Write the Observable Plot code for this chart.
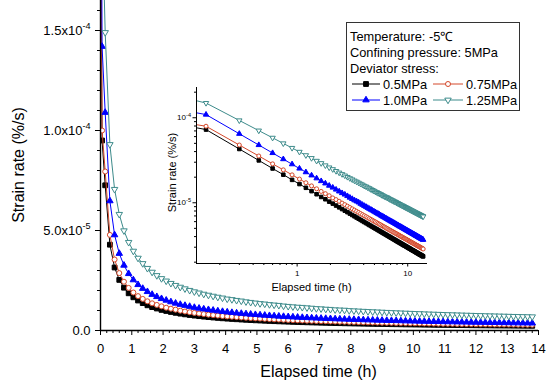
<!DOCTYPE html>
<html><head><meta charset="utf-8">
<script src="https://cdn.jsdelivr.net/npm/d3@7"></script>
<script src="https://cdn.jsdelivr.net/npm/@observablehq/plot@0.6"></script>
<style>
body{margin:0;background:#fff;}
#wrap{position:relative;width:550px;height:386px;overflow:hidden;background:#fff;}
#wrap > svg, #wrap > div{position:absolute;}
</style></head><body><div id="wrap"></div>
<script>
const FONT = '"Liberation Sans", Arial, Helvetica, sans-serif';

// Elapsed time (h)
const times = [0.01,0.05,
0.15,0.3,0.45,0.6,0.75,0.9,1.05,1.2,1.35,1.5,
1.65,1.8,1.95,2.1,2.25,2.4,2.55,2.7,2.85,3,
3.15,3.3,3.45,3.6,3.75,3.9,4.05,4.2,4.35,4.5,
4.65,4.8,4.95,5.1,5.25,5.4,5.55,5.7,5.85,6,
6.15,6.3,6.45,6.6,6.75,6.9,7.05,7.2,7.35,7.5,
7.65,7.8,7.95,8.1,8.25,8.4,8.55,8.7,8.85,9,
9.15,9.3,9.45,9.6,9.75,9.9,10.05,10.2,10.35,10.5,
10.65,10.8,10.95,11.1,11.25,11.4,11.55,11.7,11.85,12,
12.15,12.3,12.45,12.6,12.75,12.9,13.05,13.2,13.35,13.5,
13.65,13.8];

// Strain rate, in units of 1e-6 %/s
const rate05 = [200,95,
72.6,42.9,31.5,25.3,21.4,18.6,16.6,15.0,13.7,12.6,
11.7,11.0,10.3,9.77,9.27,8.83,8.43,8.07,7.75,7.45,
7.18,6.93,6.70,6.49,6.29,6.10,5.93,5.77,5.62,5.47,
5.34,5.21,5.09,4.98,4.87,4.77,4.67,4.57,4.48,4.40,
4.32,4.24,4.16,4.09,4.02,3.96,3.89,3.83,3.77,3.71,
3.66,3.60,3.55,3.50,3.45,3.41,3.36,3.32,3.27,3.23,
3.19,3.15,3.12,3.08,3.04,3.01,2.97,2.94,2.91,2.88,
2.84,2.81,2.78,2.76,2.73,2.70,2.68,2.65,2.62,2.60,
2.57,2.55,2.53,2.50,2.48,2.46,2.44,2.42,2.40,2.37,
2.36,2.34];
const rate075 = [220,100,
79.5,47.8,35.5,28.7,24.4,21.3,19.0,17.2,15.8,14.6,
13.6,12.8,12.1,11.4,10.9,10.4,9.91,9.50,9.13,8.79,
8.48,8.20,7.93,7.69,7.46,7.25,7.05,6.87,6.69,6.53,
6.37,6.22,6.08,5.95,5.83,5.71,5.59,5.49,5.38,5.28,
5.19,5.10,5.01,4.93,4.84,4.77,4.69,4.62,4.55,4.48,
4.42,4.36,4.30,4.24,4.18,4.13,4.07,4.02,3.97,3.92,
3.87,3.83,3.78,3.74,3.70,3.66,3.62,3.58,3.54,3.50,
3.46,3.43,3.39,3.36,3.33,3.30,3.26,3.23,3.20,3.17,
3.15,3.12,3.09,3.06,3.04,3.01,2.98,2.96,2.93,2.91,
2.89,2.86];
const rate10 = [300,142,
109,64.8,47.8,38.5,32.6,28.4,25.3,22.9,21.0,19.4,
18.0,16.9,15.9,15.1,14.3,13.6,13.0,12.5,12.0,11.5,
11.1,10.7,10.4,10.1,9.75,9.47,9.20,8.96,8.72,8.50,
8.30,8.10,7.92,7.74,7.58,7.42,7.27,7.12,6.98,6.85,
6.73,6.61,6.49,6.38,6.27,6.17,6.07,5.98,5.89,5.80,
5.71,5.63,5.55,5.47,5.40,5.32,5.25,5.19,5.12,5.06,
4.99,4.93,4.88,4.82,4.76,4.71,4.65,4.60,4.55,4.50,
4.46,4.41,4.36,4.32,4.28,4.24,4.19,4.15,4.11,4.08,
4.04,4.00,3.96,3.93,3.89,3.86,3.83,3.79,3.76,3.73,
3.70,3.67];
const rate125 = [400,210,
149,93.0,70.6,58.1,49.9,44.1,39.7,36.2,33.5,31.1,
29.2,27.5,26.0,24.8,23.6,22.6,21.7,20.9,20.1,19.4,
18.8,18.2,17.7,17.2,16.7,16.3,15.8,15.5,15.1,14.8,
14.4,14.1,13.8,13.5,13.3,13.0,12.8,12.6,12.3,12.1,
11.9,11.7,11.6,11.4,11.2,11.0,10.9,10.7,10.6,10.4,
10.3,10.2,10.0,9.89,9.77,9.65,9.53,9.42,9.31,9.21,
9.10,9.00,8.91,8.81,8.72,8.63,8.54,8.46,8.37,8.29,
8.21,8.13,8.06,7.98,7.91,7.84,7.77,7.70,7.63,7.57,
7.51,7.44,7.38,7.32,7.27,7.21,7.15,7.09,7.04,6.99,
6.94,6.89];

const stressLabels = ["0.5MPa","0.75MPa","1.0MPa","1.25MPa"];
const legendTitle = ["Temperature: -5\u2103","Confining pressure: 5MPa","Deviator stress:"];

const xMajor = [0,1,2,3,4,5,6,7,8,9,10,11,12,13,14];
const xMajorLabels = ["0","1","2","3","4","5","6","7","8","9","10","11","12","13","14"];
const yMajor = [0,50,100,150];
const yMajorLabels = ["0.0","5.0x10^-5","1.0x10^-4","1.5x10^-4"];
const insetXTicks = [1,10];
const insetXLabels = ["1","10"];
const insetYTicks = [10,100];
const insetYLabels = ["10^-5","10^-4"];

const xMinor = d3.range(0,14.001,0.2).filter(v=>Math.abs(v-Math.round(v))>1e-6);
const yMinor = d3.range(10,161,10).filter(v=>v%50!==0);
const insetXMinor = [0.2,0.3,0.4,0.5,0.6,0.7,0.8,0.9,2,3,4,5,6,7,8,9];
const insetYMinor = [2,3,4,5,6,7,8,9,20,30,40,50,60,70,80,90,200];

const triDown = {draw(context,size){const s3=Math.sqrt(3);const y=-Math.sqrt(size/(s3*3));context.moveTo(0,-y*2);context.lineTo(-s3*y,y);context.lineTo(s3*y,y);context.closePath();}};

const styles = [
  {stroke:"#000000", fill:"#000000", symbol:"square", rMain:2.7, rInset:2.0},
  {stroke:"#d4482a", fill:"#ffffff", symbol:"circle", rMain:2.5, rInset:2.0},
  {stroke:"#0000ff", fill:"#0000ff", symbol:"triangle", rMain:2.4, rInset:2.0},
  {stroke:"#3d8b8b", fill:"#ffffff", symbol:triDown, rMain:2.4, rInset:2.0}
];
const allRates = [rate05, rate075, rate10, rate125];
const rows = allRates.map((vals,i)=>times.map((t,j)=>({t, v: vals[j], s: stressLabels[i]})));

function seriesMarks(key){
  return rows.flatMap((data,i)=>{
    const st = styles[i];
    return [
      Plot.line(data,{x:"t",y:"v",stroke:st.stroke,strokeWidth:1,clip:true}),
      Plot.dot(data,{x:"t",y:"v",symbol:st.symbol,r:st[key],fill:st.fill,stroke:st.stroke,strokeWidth:1,clip:true})
    ];
  });
}

function supify(svg){
  svg.querySelectorAll("text").forEach(t=>{
    const s = t.textContent; const i = s.indexOf("^");
    if (i<0) return;
    while (t.firstChild) t.removeChild(t.firstChild);
    t.appendChild(document.createTextNode(s.slice(0,i)));
    const ts = document.createElementNS("http://www.w3.org/2000/svg","tspan");
    ts.setAttribute("dy","-0.65em"); ts.setAttribute("font-size","0.7em");
    ts.textContent = s.slice(i+1);
    t.appendChild(ts);
  });
}

const wrap = document.getElementById("wrap");

// Main chart
const main = Plot.plot({
  width:550, height:386, marginLeft:100, marginRight:12, marginTop:0, marginBottom:56,
  style:{fontFamily:FONT, fontSize:"13px", color:"#000", background:"transparent", overflow:"visible"},
  x:{domain:[0,14]},
  y:{domain:[0,165]},
  marks:[
    Plot.axisX({ticks:xMinor, tickSize:3, tickFormat:()=>"", label:null}),
    Plot.axisX({ticks:xMajor, tickSize:5, tickPadding:8, tickFormat:d=>xMajorLabels[xMajor.indexOf(d)], label:null}),
    Plot.axisY({ticks:yMinor, tickSize:3, tickFormat:()=>"", label:null}),
    Plot.axisY({ticks:yMajor, tickSize:5, tickPadding:5, tickFormat:d=>yMajorLabels[yMajor.indexOf(d)], label:null}),
    ...seriesMarks("rMain"),
    Plot.ruleX([0],{stroke:"#000",strokeWidth:1.4}),
    Plot.ruleY([0],{stroke:"#000",strokeWidth:1.4})
  ]
});
supify(main);
main.style.left="0px"; main.style.top="0px";
wrap.appendChild(main);
{
  const s = d3.select(main);
  s.append("text").attr("transform","translate(18,165) rotate(-90)").attr("text-anchor","middle").attr("dy","0.35em")
    .attr("font-size",16).attr("font-family",FONT).attr("fill","#000").text("Strain rate (%/s)");
  s.append("text").attr("x",318.5).attr("y",377).attr("text-anchor","middle")
    .attr("font-size",16).attr("font-family",FONT).attr("fill","#000").text("Elapsed time (h)");
}

// Inset chart (log-log)
const inset = Plot.plot({
  width:285, height:220, marginLeft:46, marginRight:8, marginTop:7, marginBottom:37,
  style:{fontFamily:FONT, fontSize:"8px", color:"#000", background:"transparent", overflow:"visible"},
  x:{type:"log", domain:[0.123,15.1]},
  y:{type:"log", domain:[1.93,227]},
  marks:[
    Plot.axisX({ticks:insetXMinor, tickSize:2, tickFormat:()=>"", label:null}),
    Plot.axisX({ticks:insetXTicks, tickSize:3.5, tickPadding:3, tickFormat:d=>insetXLabels[insetXTicks.indexOf(d)], label:null}),
    Plot.axisY({ticks:insetYMinor, tickSize:2, tickFormat:()=>"", label:null}),
    Plot.axisY({ticks:insetYTicks, tickSize:3.5, tickPadding:2, tickFormat:d=>insetYLabels[insetYTicks.indexOf(d)], label:null}),
    ...seriesMarks("rInset"),
    Plot.ruleX([0.123],{stroke:"#000",strokeWidth:1}),
    Plot.ruleY([1.93],{stroke:"#000",strokeWidth:1})
  ]
});
supify(inset);
inset.style.left="150px"; inset.style.top="80px";
wrap.appendChild(inset);
{
  const s = d3.select(inset);
  s.append("text").attr("transform","translate(22,92.5) rotate(-90)").attr("text-anchor","middle").attr("dy","0.35em")
    .attr("font-size",11).attr("font-family",FONT).attr("fill","#000").text("Strain rate (%/s)");
  s.append("text").attr("x",161.5).attr("y",211).attr("text-anchor","middle")
    .attr("font-size",11).attr("font-family",FONT).attr("fill","#000").text("Elapsed time (h)");
}

// Legend
const leg = d3.create("svg").attr("width",175).attr("height",91)
  .style("left","346px").style("top","22px").style("position","absolute");
leg.append("rect").attr("x",0.5).attr("y",0.5).attr("width",173).attr("height",88)
  .attr("fill","#fff").attr("stroke","#333").attr("stroke-width",1);
legendTitle.forEach((txt,i)=>{
  leg.append("text").attr("x",4).attr("y",18.6+16*i).attr("font-size",12.8).attr("font-family",FONT).attr("fill","#000").text(txt);
});
const legPos = [[6,62],[87,62],[6,78],[87,78]];
stressLabels.forEach((lab,i)=>{
  const st = styles[i]; const [x0,cy] = legPos[i];
  const w = i%2===0 ? 28 : 30;
  leg.append("line").attr("x1",x0).attr("x2",x0+w).attr("y1",cy).attr("y2",cy).attr("stroke",st.stroke).attr("stroke-width",1);
  const sym = typeof st.symbol === "string" ? ({square:d3.symbolSquare,circle:d3.symbolCircle,triangle:d3.symbolTriangle})[st.symbol] : st.symbol;
  leg.append("path").attr("d", d3.symbol(sym, st.rMain*st.rMain*Math.PI)()).attr("transform",`translate(${x0+w/2},${cy})`)
    .attr("fill",st.fill).attr("stroke",st.stroke).attr("stroke-width",1);
  leg.append("text").attr("x",x0+w+3).attr("y",cy+4.6).attr("font-size",12.8).attr("font-family",FONT).attr("fill","#000").text(lab);
});
wrap.appendChild(leg.node());
</script></body></html>
